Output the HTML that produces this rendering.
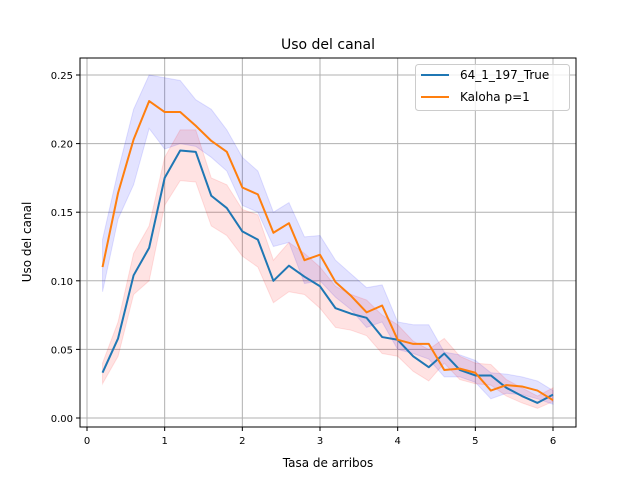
<!DOCTYPE html>
<html><head><meta charset="utf-8"><style>
body{margin:0;background:#fff;font-family:"Liberation Sans","DejaVu Sans",sans-serif}
svg text{font-family:"DejaVu Sans","Liberation Sans",sans-serif}
</style></head><body>
<svg id="chart" width="640" height="480" xmlns="http://www.w3.org/2000/svg"></svg>
<script>
const xs=[0.2,0.4,0.6,0.8,1.0,1.2,1.4,1.6,1.8,2.0,2.2,2.4,2.6,2.8,3.0,3.2,3.4,3.6,3.8,4.0,4.2,4.4,4.6,4.8,5.0,5.2,5.4,5.6,5.8,6.0];
const blueVals=[0.033,0.058,0.104,0.124,0.175,0.195,0.194,0.162,0.153,0.136,0.130,0.100,0.111,0.103,0.096,0.080,0.076,0.073,0.059,0.057,0.045,0.037,0.047,0.035,0.031,0.031,0.022,0.016,0.011,0.017];
const blueLo=[.025,.045,.09,.10,.155,.173,.172,.14,.133,.118,.11,.084,.092,.09,.08,.066,.064,.06,.047,.045,.034,.027,.04,.028,.025,.024,.016,.011,.007,.012];
const blueHi=[.04,.07,.12,.14,.19,.21,.21,.175,.17,.152,.148,.115,.128,.12,.11,.096,.09,.086,.075,.068,.056,.05,.058,.045,.04,.039,.028,.022,.016,.022];
const orangeVals=[0.110,0.164,0.203,0.231,0.223,0.223,0.213,0.202,0.194,0.168,0.163,0.135,0.142,0.115,0.119,0.099,0.089,0.077,0.082,0.057,0.054,0.054,0.035,0.036,0.033,0.020,0.024,0.023,0.020,0.013];
const orangeLo=[.092,.145,.17,.211,.196,.2,.198,.19,.18,.155,.15,.125,.128,.098,.10,.088,.079,.066,.07,.05,.047,.043,.03,.03,.026,.014,.018,.017,.014,.01];
const orangeHi=[.13,.18,.225,.25,.248,.246,.232,.225,.21,.19,.18,.15,.157,.132,.133,.115,.105,.095,.097,.07,.068,.068,.048,.046,.042,.033,.032,.03,.027,.02];
const xTicks=[0,1,2,3,4,5,6];
const yTicks=[0,0.05,0.10,0.15,0.20,0.25];
const yLabels=["0.00","0.05","0.10","0.15","0.20","0.25"];

const L=80,R=576,T=58,B=427;
const X=v=>87+v*(553-87)/6;
const Y=v=>418-v*(418-75)/0.25;
const svg=document.getElementById('chart');
const NS='http://www.w3.org/2000/svg';
function mk(tag,attrs,parent){const e=document.createElementNS(NS,tag);for(const k in attrs)e.setAttribute(k,attrs[k]);(parent||svg).appendChild(e);return e;}
function txt(s,attrs){const e=mk('text',attrs);e.textContent=s;return e;}

xTicks.forEach((t,i)=>{
  const g=mk('line',{x1:X(t),x2:X(t),y1:T,y2:B,stroke:'#b0b0b0','stroke-width':1});
  
  
  mk('line',{x1:X(t),x2:X(t),y1:B,y2:B+4,stroke:'#000','stroke-width':1});
  const l=txt(String(t),{x:X(t),y:B+17,'font-size':10,'text-anchor':'middle'});
  
  
});
yTicks.forEach((t,i)=>{
  const g=mk('line',{x1:L,x2:R,y1:Y(t),y2:Y(t),stroke:'#b0b0b0','stroke-width':1});
  
  
  mk('line',{x1:L-4,x2:L,y1:Y(t),y2:Y(t),stroke:'#000','stroke-width':1});
  const l=txt(yLabels[i],{x:L-7,y:Y(t)+4,'font-size':10,'text-anchor':'end'});
  
  
});
function band(lo,hi,color,name){
  let d='M'+xs.map((x,i)=>X(x)+','+Y(hi[i])).join('L');
  d+='L'+xs.map((x,i)=>X(x)+','+Y(lo[i])).reverse().join('L')+'Z';
  const p=mk('path',{d:d,fill:color,'fill-opacity':0.11,stroke:color,'stroke-opacity':0.11});
  
  
}
function line(vals,color,name){
  const p=mk('polyline',{points:xs.map((x,i)=>X(x)+','+Y(vals[i])).join(' '),fill:'none',stroke:color,'stroke-width':2,'stroke-linejoin':'round'});
  
  
}
band(orangeLo,orangeHi,'#0000ff','kaloha-confidence-band');
band(blueLo,blueHi,'#ff0000','64-1-197-confidence-band');
line(blueVals,'#1f77b4','line-64-1-197-true');
line(orangeVals,'#ff7f0e','line-kaloha');
const fr=mk('rect',{x:L,y:T,width:R-L,height:B-T,fill:'none',stroke:'#000','stroke-width':1});


</script>
<svg width="640" height="480" style="position:absolute;left:0;top:0" xmlns="http://www.w3.org/2000/svg">
<text x="328" y="49" font-size="14" text-anchor="middle">Uso del canal</text>
<text x="328" y="467" font-size="12" text-anchor="middle">Tasa de arribos</text>
<text x="31" y="242" font-size="12" text-anchor="middle" transform="rotate(-90 31 242)">Uso del canal</text>
<g>
<rect x="415.5" y="64.5" width="154" height="46" rx="3" fill="#fff" fill-opacity="0.8" stroke="#ccc"/>
<g>
<line x1="421" x2="449" y1="75" y2="75" stroke="#1f77b4" stroke-width="2"/>
<text x="460" y="79" font-size="12">64_1_197_True</text></g>
<g>
<line x1="421" x2="449" y1="97" y2="97" stroke="#ff7f0e" stroke-width="2"/>
<text x="460" y="101" font-size="12">Kaloha p=1</text></g>
</g>
</svg>
</body></html>
